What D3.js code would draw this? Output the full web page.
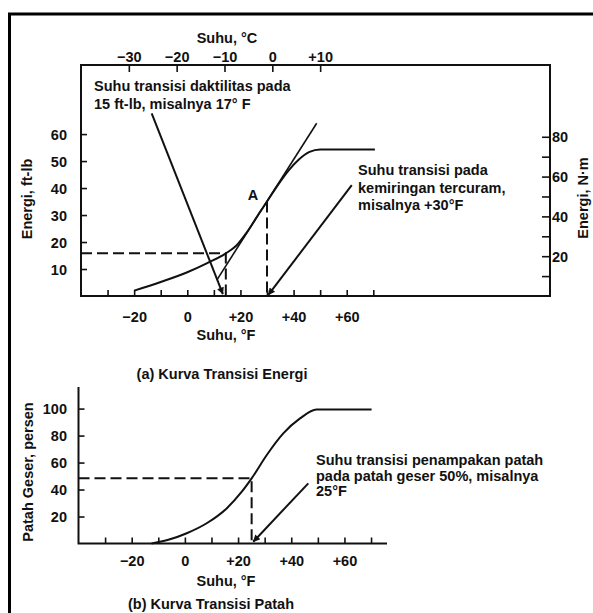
<!DOCTYPE html>
<html><head><meta charset="utf-8">
<script src="https://cdn.jsdelivr.net/npm/d3@7/dist/d3.min.js"></script>
<style>
html,body{margin:0;padding:0;background:#fff;}
svg{display:block;}
text{font-family:"Liberation Sans",Arial,sans-serif;font-weight:bold;fill:#111;}
</style></head>
<body>
<script>
// ---------- DATA ----------
// (a) Energy transition curve: temperature (°F) vs energy (ft-lb)
const energyTempF = [-20, -10, 0, 7.5, 14.5, 18.6, 22.4, 27.4, 30, 34, 38, 42, 46, 50, 70.6];
const energyFtLb  = [2, 5.2, 8.8, 12.2, 15.8, 18.8, 23.6, 31.2, 35, 41, 46.4, 50.6, 53.4, 54.3, 54.3];
// tangent at steepest slope (point A)
const tangentTempF = [11.1, 48.7];
const tangentFtLb  = [5.9, 64];
// reference points
const ductilityPoint = {tempF: 14.5, ftlb: 15.8};
const steepestPoint  = {tempF: 30, ftlb: 35};
// (b) Fracture transition curve: temperature (°F) vs shear fracture (%)
const fractureTempF = [-12.5, -5.6, 0.7, 8.2, 15.7, 21.4, 25.1, 30.8, 37, 43.3, 49.5, 70.2];
const shearPercent  = [0, 3.1, 7.6, 15, 26, 38.4, 48.3, 65.6, 81.6, 92.7, 99.3, 99.3];
const fatePoint = {tempF: 25.1, pct: 48.3};

// tick values / labels
const fTicks = [-30, -20, -10, 0, 10, 20, 30, 40, 50, 60, 70];
const fLabels = {"-20": "\u221220", "0": "0", "20": "+20", "40": "+40", "60": "+60"};
const cTicks = [-30, -20, -10, 0, 10];
const cLabels = ["\u221230", "\u221220", "\u221210", "0", "+10"];
const ftlbTicks = [10, 20, 30, 40, 50, 60];
const nmTicks = [10, 20, 30, 40, 50, 60, 70, 80];
const nmLabelled = [20, 40, 60, 80];
const pctTicks = [20, 40, 60, 80, 100];

// ---------- DRAW ----------
const W = 593, H = 613;
const svg = d3.select("body").append("svg").attr("width", W).attr("height", H);

// outer frame
svg.append("path").attr("d", "M9.5,613 V14 H593").attr("fill", "none")
  .attr("stroke", "#000").attr("stroke-width", 3);

const ink = "#111";
const fs = 14.5;

// defs: arrowhead
svg.append("defs").append("marker").attr("id", "arr")
  .attr("viewBox", "0 0 10 10").attr("refX", 9.5).attr("refY", 5)
  .attr("markerWidth", 12).attr("markerHeight", 7).attr("markerUnits", "userSpaceOnUse")
  .attr("orient", "auto")
  .append("path").attr("d", "M0,0 L10,5 L0,10 Z").attr("fill", ink);

// ===== (a) =====
const xA = d3.scaleLinear().domain([-40, 136.5]).range([81, 550]);
const xC = d3.scaleLinear().domain([(-40 - 32) * 5 / 9, (136.5 - 32) * 5 / 9]).range([81, 550]);
const yA = d3.scaleLinear().domain([0, 85.6]).range([296, 65]);
const yN = d3.scaleLinear().domain([0, 85.6 * 1.3558]).range([296, 65]);

const gA = svg.append("g");
gA.append("rect").attr("x", 81).attr("y", 65).attr("width", 469).attr("height", 231)
  .attr("fill", "none").attr("stroke", ink).attr("stroke-width", 2);

function styleAxis(g) {
  g.select(".domain").remove();
  g.selectAll(".tick line").attr("stroke", ink).attr("stroke-width", 1.6);
  g.selectAll(".tick text").attr("font-size", fs)
    .style("font-family", '"Liberation Sans", Arial, sans-serif').style("font-weight", "bold").attr("fill", ink);
}

const axBottomA = d3.axisBottom(xA).tickValues(fTicks).tickSizeInner(-6).tickSizeOuter(0)
  .tickFormat(d => fLabels[String(d)] || "");
const gxa = gA.append("g").attr("transform", "translate(0,296)").call(axBottomA);
styleAxis(gxa);
gxa.selectAll(".tick text").attr("y", 26).attr("dy", 0);

const axTopA = d3.axisTop(xC).tickValues(cTicks).tickSizeInner(-7).tickSizeOuter(0)
  .tickFormat((d, i) => cLabels[i]);
const gxc = gA.append("g").attr("transform", "translate(0,65)").call(axTopA);
styleAxis(gxc);
gxc.selectAll(".tick text").attr("y", -3).attr("dy", 0);

const axLeftA = d3.axisLeft(yA).tickValues(ftlbTicks).tickSizeInner(-6).tickSizeOuter(0);
const gya = gA.append("g").attr("transform", "translate(81,0)").call(axLeftA);
styleAxis(gya);
gya.selectAll(".tick text").attr("x", -14).attr("dy", "0.35em");

const axRightA = d3.axisRight(yN).tickValues(nmTicks).tickSizeInner(-8).tickSizeOuter(0)
  .tickFormat(d => nmLabelled.includes(d) ? String(d) : "");
const gyn = gA.append("g").attr("transform", "translate(550,0)").call(axRightA);
styleAxis(gyn);
gyn.selectAll(".tick text").attr("x", 2).attr("dy", "0.35em");

gA.append("text").attr("x", 227).attr("y", 43).attr("text-anchor", "middle").attr("font-size", fs)
  .text("Suhu, \u00B0C");
gA.append("text").attr("x", 226).attr("y", 340).attr("text-anchor", "middle").attr("font-size", fs)
  .text("Suhu, \u00B0F");
gA.append("text").attr("transform", "translate(32,199) rotate(-90)").attr("text-anchor", "middle")
  .attr("font-size", fs).text("Energi, ft-lb");
gA.append("text").attr("transform", "translate(588,198) rotate(-90)").attr("text-anchor", "middle")
  .attr("font-size", fs).text("Energi, N\u00B7m");
gA.append("text").attr("x", 222).attr("y", 379).attr("text-anchor", "middle").attr("font-size", fs)
  .text("(a)  Kurva Transisi Energi");

const dash = "11,5";
gA.append("path").attr("fill", "none").attr("stroke", ink).attr("stroke-width", 2).attr("stroke-dasharray", dash)
  .attr("d", `M${xA(-40)},${yA(ductilityPoint.ftlb)} H${xA(ductilityPoint.tempF)} V${yA(0)}`);
gA.append("path").attr("fill", "none").attr("stroke", ink).attr("stroke-width", 2).attr("stroke-dasharray", dash)
  .attr("d", `M${xA(steepestPoint.tempF)},${yA(steepestPoint.ftlb)} V${yA(0)}`);

gA.append("line").attr("x1", xA(tangentTempF[0])).attr("y1", yA(tangentFtLb[0]))
  .attr("x2", xA(tangentTempF[1])).attr("y2", yA(tangentFtLb[1]))
  .attr("stroke", ink).attr("stroke-width", 1.6);

const lineA = d3.line().x(d => xA(d[0])).y(d => yA(d[1])).curve(d3.curveMonotoneX);
gA.append("path").datum(energyTempF.map((t, i) => [t, energyFtLb[i]]))
  .attr("fill", "none").attr("stroke", ink).attr("stroke-width", 2).attr("d", lineA);

gA.append("text").attr("x", xA(24.7)).attr("y", yA(35.5)).attr("text-anchor", "middle").attr("font-size", fs).text("A");

const ann1 = gA.append("text").attr("font-size", fs);
ann1.append("tspan").attr("x", 94).attr("y", 91).text("Suhu transisi daktilitas pada");
ann1.append("tspan").attr("x", 94).attr("y", 109).text("15 ft-lb, misalnya 17\u00B0 F");
gA.append("line").attr("x1", xA(-13.4)).attr("y1", yA(67.7)).attr("x2", xA(13.4)).attr("y2", yA(0.7))
  .attr("stroke", ink).attr("stroke-width", 2).attr("marker-end", "url(#arr)");

const ann2 = gA.append("text").attr("font-size", fs);
ann2.append("tspan").attr("x", 358).attr("y", 175).text("Suhu transisi pada");
ann2.append("tspan").attr("x", 358).attr("y", 192.5).text("kemiringan tercuram,");
ann2.append("tspan").attr("x", 358).attr("y", 210).text("misalnya +30\u00B0F");
gA.append("line").attr("x1", xA(61.9)).attr("y1", yA(41.1)).attr("x2", xA(30.5)).attr("y2", yA(0.4))
  .attr("stroke", ink).attr("stroke-width", 2).attr("marker-end", "url(#arr)");

// ===== (b) =====
const xB = d3.scaleLinear().domain([-40, 76]).range([78.5, 387]);
const yB = d3.scaleLinear().domain([0, 116]).range([543.5, 387]);
const gB = svg.append("g");

gB.append("path").attr("fill", "none").attr("stroke", ink).attr("stroke-width", 2)
  .attr("d", `M${xB(-40)},${yB(116)} V${yB(0)} H${xB(76)}`);

const axBottomB = d3.axisBottom(xB).tickValues(fTicks).tickSizeInner(-6).tickSizeOuter(0)
  .tickFormat(d => fLabels[String(d)] || "");
const gxb = gB.append("g").attr("transform", `translate(0,${yB(0)})`).call(axBottomB);
styleAxis(gxb);
gxb.selectAll(".tick text").attr("y", 22).attr("dy", 0);

const axLeftB = d3.axisLeft(yB).tickValues(pctTicks).tickSizeInner(-6).tickSizeOuter(0);
const gyb = gB.append("g").attr("transform", `translate(${xB(-40)},0)`).call(axLeftB);
styleAxis(gyb);
gyb.selectAll(".tick text").attr("x", -11.5).attr("dy", "0.35em");

gB.append("text").attr("x", 226).attr("y", 586).attr("text-anchor", "middle").attr("font-size", fs)
  .text("Suhu, \u00B0F");
gB.append("text").attr("transform", "translate(33,472) rotate(-90)").attr("text-anchor", "middle")
  .attr("font-size", fs).text("Patah Geser, persen");
gB.append("text").attr("x", 211).attr("y", 609).attr("text-anchor", "middle").attr("font-size", fs)
  .text("(b)  Kurva Transisi Patah");

gB.append("path").attr("fill", "none").attr("stroke", ink).attr("stroke-width", 2).attr("stroke-dasharray", dash)
  .attr("d", `M${xB(-40)},${yB(fatePoint.pct)} H${xB(fatePoint.tempF)} V${yB(0)}`);

const lineB = d3.line().x(d => xB(d[0])).y(d => yB(d[1])).curve(d3.curveMonotoneX);
gB.append("path").datum(fractureTempF.map((t, i) => [t, shearPercent[i]]))
  .attr("fill", "none").attr("stroke", ink).attr("stroke-width", 2).attr("d", lineB);

const ann3 = gB.append("text").attr("font-size", fs);
ann3.append("tspan").attr("x", 316).attr("y", 465).text("Suhu transisi penampakan patah");
ann3.append("tspan").attr("x", 316).attr("y", 480.5).text("pada patah geser 50%, misalnya");
ann3.append("tspan").attr("x", 316).attr("y", 496).text("25\u00B0F");
gB.append("line").attr("x1", xB(46.4)).attr("y1", yB(44.6)).attr("x2", xB(25.7)).attr("y2", yB(1.3))
  .attr("stroke", ink).attr("stroke-width", 2).attr("marker-end", "url(#arr)");
</script>
</body></html>
